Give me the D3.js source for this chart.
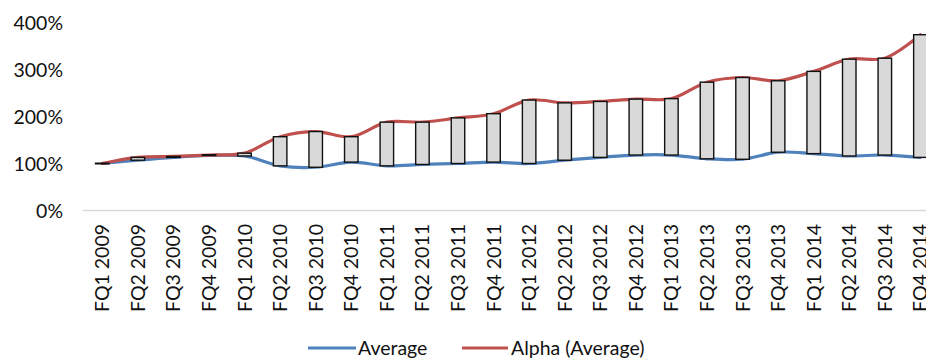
<!DOCTYPE html>
<html><head><meta charset="utf-8">
<script src="https://cdn.jsdelivr.net/npm/d3@7/dist/d3.min.js"></script>
<style>
html,body{margin:0;padding:0;background:#fff;}
svg{display:block;font-family:Lato,"Open Sans",sans-serif;}
</style></head>
<body>
<svg id="chart" width="926" height="358"></svg>
<script>
const categories = ["FQ1 2009","FQ2 2009","FQ3 2009","FQ4 2009","FQ1 2010","FQ2 2010","FQ3 2010","FQ4 2010",
  "FQ1 2011","FQ2 2011","FQ3 2011","FQ4 2011","FQ1 2012","FQ2 2012","FQ3 2012","FQ4 2012",
  "FQ1 2013","FQ2 2013","FQ3 2013","FQ4 2013","FQ1 2014","FQ2 2014","FQ3 2014","FQ4 2014"];
const averageValues = [1.00,1.07,1.13,1.17,1.16,0.95,0.92,1.03,0.95,0.98,1.00,1.03,1.00,1.07,1.13,1.18,1.18,1.10,1.09,1.24,1.21,1.16,1.18,1.13];
const alphaValues   = [1.00,1.13,1.15,1.18,1.22,1.57,1.68,1.57,1.88,1.88,1.97,2.06,2.35,2.29,2.32,2.37,2.38,2.73,2.83,2.76,2.96,3.22,3.24,3.74];
const yTicks = [0,1,2,3,4];
const seriesNames = ["Average","Alpha (Average)"];
const seriesColors = ["#4F81BD","#C0504D"];

const svg = d3.select("#chart");
const step = 35.57, x0 = 84.5;
const x = d3.scaleBand().domain(categories).range([x0, x0 + step*categories.length]).padding(0);
const y = d3.scaleLinear().domain([0,4]).range([210.5, 22.5]);

// font sizing to mimic Calibri metrics
const probe = svg.append("text").attr("font-size",20).text("FQ1 2009");
const k = 88 / probe.node().getComputedTextLength();
probe.remove();
const fs = 20*k;

// baseline axis line
svg.append("line").attr("x1", x0-1.5).attr("x2", 926).attr("y1", y(0)).attr("y2", y(0))
  .attr("stroke","#D9D9D9").attr("stroke-width",1.5);

// y axis labels
const yAxis = d3.axisLeft(y).tickValues(yTicks).tickFormat(d => (d*100)+"%").tickSize(0).tickPadding(0);
const yg = svg.append("g").attr("transform","translate(63,0)").call(yAxis);
yg.select(".domain").remove();
yg.selectAll("text").attr("font-size",fs).attr("fill","#111").attr("font-family","Lato,'Open Sans',sans-serif").attr("dy","0.35em");

// x axis labels
const xAxis = d3.axisBottom(x).tickSize(0).tickPadding(0);
const xg = svg.append("g").attr("transform","translate(0,224)").call(xAxis);
xg.select(".domain").remove();
xg.selectAll("text").attr("font-size",fs).attr("fill","#111").attr("font-family","Lato,'Open Sans',sans-serif")
  .attr("transform","rotate(-90)").attr("text-anchor","end").attr("x",0).attr("y",0).attr("dy","0.36em");

// lines
const cx = c => x(c) + x.bandwidth()/2;
const line = d3.line().x((d,i) => cx(categories[i])).y(d => y(d)).curve(d3.curveCatmullRom.alpha(0.5));
[averageValues, alphaValues].forEach((vals,i) => {
  svg.append("path").datum(vals).attr("d", line).attr("fill","none")
    .attr("stroke", seriesColors[i]).attr("stroke-width",3.2).attr("stroke-linejoin","round").attr("stroke-linecap","round");
});

// up/down bars
const bw = 13.5;
svg.append("g").selectAll("rect").data(categories).join("rect")
  .attr("x", c => cx(c) - bw/2)
  .attr("width", bw)
  .attr("y", (c,i) => y(Math.max(alphaValues[i], averageValues[i])) - (Math.abs(y(averageValues[i]) - y(alphaValues[i])) < 0.6 ? 0.3 : 0))
  .attr("height", (c,i) => Math.max(0.6, Math.abs(y(averageValues[i]) - y(alphaValues[i]))))
  .attr("fill","#D9D9D9").attr("stroke","#111").attr("stroke-width",1.4);

// legend
const legend = [{x1:308,x2:356,tx:358},{x1:462,x2:508,tx:511}];
legend.forEach((l,i) => {
  svg.append("line").attr("x1",l.x1).attr("x2",l.x2).attr("y1",348).attr("y2",348)
    .attr("stroke",seriesColors[i]).attr("stroke-width",3);
  svg.append("text").attr("x",l.tx).attr("y",348).attr("dy","0.35em").attr("font-size",fs).attr("fill","#111")
    .text(seriesNames[i]);
});
</script>
</body></html>
